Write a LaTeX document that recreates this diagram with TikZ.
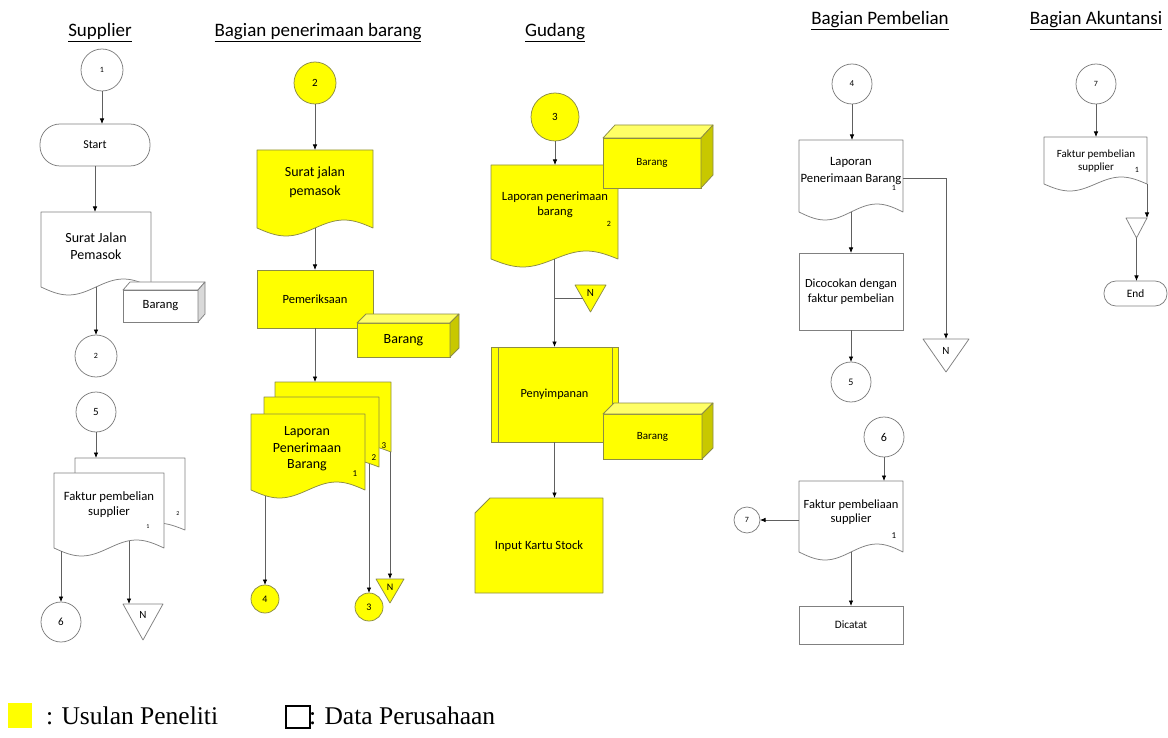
\documentclass[tikz,border=0pt]{standalone}
\usepackage{fontspec}
\setmainfont{Carlito}
\newfontfamily\legendfont{Liberation Serif}
\usetikzlibrary{arrows.meta,calc}

\definecolor{ybody}{HTML}{FFFF00}
\definecolor{ylight}{HTML}{FFFF66}
\definecolor{ydark}{HTML}{C8C800}
\definecolor{yline}{HTML}{8C8C46}
\definecolor{wline}{HTML}{808080}
\definecolor{wdark}{HTML}{D9D9D9}
\definecolor{connc}{HTML}{606060}

\newcommand\fsz[2]{\fontsize{#1pt}{#2pt}\selectfont}

% document symbol with a wavy bottom edge, drawn round an empty node
\newcommand\docshape[3]{%
  \path[#1] (#2.north west) -- (#2.north east) -- (#2.south east)
    sin ($(#2.south west)!0.75!(#2.south east)+(0,-#3)$)
    cos ($(#2.south west)!0.5!(#2.south east)$)
    sin ($(#2.south west)!0.25!(#2.south east)+(0,#3)$)
    cos (#2.south west) -- cycle;}
% top and side faces of a box symbol
\newcommand\boxdepth[4]{%
  \path[#1top] (#2.north west) -- ++(#3,-#4) -- ($(#2.north east)+(#3,-#4)$) -- (#2.north east) -- cycle;
  \path[#1side] (#2.north east) -- ++(#3,-#4) -- ($(#2.south east)+(#3,-#4)$) -- (#2.south east) -- cycle;}
% off-page connector (triangle pointing down)
\newcommand\tridown[2]{%
  \path[#1] (#2.north west) -- (#2.north east) -- (#2.south) -- cycle;}

\tikzset{
  every node/.style={inner sep=0pt, outer sep=0pt},
  conn/.style={draw=connc, line width=0.75pt, -{Latex[length=5.5pt,width=4.5pt,color=black]}},
  plain/.style={draw=connc, line width=0.75pt},
  wcirc/.style={circle, draw=wline, fill=white, line width=0.75pt},
  ycirc/.style={circle, draw=yline, fill=ybody, line width=0.75pt},
  wbox/.style={rectangle, draw=wline, fill=white, line width=0.75pt},
  ybox/.style={rectangle, draw=yline, fill=ybody, line width=0.75pt},
  slot/.style={rectangle},
  txt/.style={align=center},
  wpath/.style={draw=wline, fill=white, line width=0.75pt, line join=round},
  ypath/.style={draw=yline, fill=ybody, line width=0.75pt, line join=round},
  wtop/.style={draw=wline, fill=white, line width=0.75pt, line join=round},
  wside/.style={draw=wline, fill=wdark, line width=0.75pt, line join=round},
  ytop/.style={draw=yline, fill=ylight, line width=0.75pt, line join=round},
  yside/.style={draw=yline, fill=ydark, line width=0.75pt, line join=round},
  lanehead/.style={anchor=base, font=\fsz{19}{23}},
}

\begin{document}
\begin{tikzpicture}[x=1pt,y=-1pt]
\useasboundingbox (0,0) rectangle (1168,738);
\fill[white] (0,0) rectangle (1168,738);

% lane headings
\node[lanehead] (h1) at (100,37) {\underline{Supplier}};
\node[lanehead] (h2) at (318,37) {\underline{Bagian penerimaan barang}};
\node[lanehead] (h3) at (555,37) {\underline{Gudang}};
\node[lanehead] (h4) at (880,25) {\underline{Bagian Pembelian}};
\node[lanehead] (h5) at (1096,25) {\underline{Bagian Akuntansi}};

% ---------------- Supplier ----------------
\node[wcirc, minimum size=42, font=\fsz{8}{9}] (s1) at (102,70) {1};
\node[wbox, rounded corners=20pt, minimum width=110, minimum height=42, font=\fsz{12}{14}] (sstart) at (95,145) {Start};
\draw[conn] (s1.south) -- (s1.south |- sstart.north);
\node[slot, minimum width=110, minimum height=75, anchor=north west] (ssj) at (41,212) {};
\docshape{wpath}{ssj}{8}
\node[txt, font=\fsz{14}{17}] (ssjt) at (96,246) {Surat Jalan\\Pemasok};
\draw[conn] (sstart.south) -- (sstart.south |- ssj.north);
\node[wbox, minimum width=75, minimum height=32, font=\fsz{12.6}{15}] (sbar) at (160.5,306) {Barang};
\boxdepth{w}{sbar}{7}{8}
\node[wcirc, minimum size=42, font=\fsz{8}{9}] (s2) at (96,356) {2};
\draw[conn] (ssj.south) -- (s2.north);

\node[wcirc, minimum size=40, font=\fsz{11}{13}] (s5) at (96,412) {5};
\node[slot, minimum width=110, minimum height=72, anchor=north west] (sfb) at (75,458) {};
\docshape{wpath}{sfb}{7}
\node[slot, minimum width=110, minimum height=75, anchor=north west] (sf) at (54,473) {};
\docshape{wpath}{sf}{8}
\node[txt, font=\fsz{12.7}{15}] (sft) at (109,505) {Faktur pembelian\\supplier};
\node[font=\fsz{6}{7}] (sfn1) at (148,527) {1};
\node[font=\fsz{6}{7}] (sfn2) at (178,514) {2};
\draw[conn] (s5.south) -- (s5.south |- sfb.north);
\node[wcirc, minimum size=40, font=\fsz{11}{13}] (s6) at (61,622) {6};
\node[slot, minimum width=40, minimum height=36] (sN) at (143,622) {};
\tridown{wpath}{sN}
\node[font=\fsz{11}{13}] (sNt) at (143,615) {N};
\coordinate (sfa) at ($(sf.south west)+(7,3)$);
\draw[conn] (sfa) -- (sfa |- s6.north);
\coordinate (sfc) at ($(sf.south west)+(75,-7)$);
\draw[conn] (sfc) -- (sfc |- sN.north);

% ---------------- Bagian penerimaan barang ----------------
\node[ycirc, minimum size=42, font=\fsz{11}{13}] (p2) at (315,83) {2};
\node[slot, minimum width=116, minimum height=78, anchor=north west] (psj) at (257,150) {};
\docshape{ypath}{psj}{8}
\node[txt, font=\fsz{14}{19}] (psjt) at (315,182) {Surat jalan\\pemasok};
\draw[conn] (p2.south) -- (psj.north);
\node[ybox, minimum width=116, minimum height=58, font=\fsz{12.5}{15}] (pcek) at (315,299) {Pemeriksaan};
\draw[conn] (psj.south) -- (pcek.north);
\node[ybox, minimum width=93, minimum height=34, font=\fsz{14}{16}] (pbar) at (403.5,340) {Barang};
\boxdepth{y}{pbar}{9}{9}
\node[slot, minimum width=116, minimum height=70, anchor=north west] (pd3) at (275,382) {};
\docshape{ypath}{pd3}{7}
\node[slot, minimum width=115, minimum height=70, anchor=north west] (pd2) at (264,397) {};
\docshape{ypath}{pd2}{7}
\node[slot, minimum width=114, minimum height=76, anchor=north west] (pd1) at (251,414) {};
\docshape{ypath}{pd1}{8}
\node[font=\fsz{9}{10}] (pd3n) at (384,446) {3};
\node[font=\fsz{9}{10}] (pd2n) at (374,458) {2};
\node[font=\fsz{9}{10}] (pd1n) at (355,474) {1};
\node[txt, font=\fsz{14}{16.5}] (pd1t) at (307,449) {Laporan\\Penerimaan\\Barang};
\draw[conn] (pcek.south) -- (pcek.south |- pd3.north);
\node[ycirc, minimum size=28, font=\fsz{10}{12}] (p4) at (265,599) {4};
\node[ycirc, minimum size=28, font=\fsz{10}{12}] (p3) at (369,607) {3};
\node[slot, minimum width=28, minimum height=24] (pN) at (390,591) {};
\tridown{ypath}{pN}
\node[font=\fsz{10}{12}] (pNt) at (390,587) {N};
\coordinate (pa1) at ($(pd1.south west)+(14,5.5)$);
\draw[conn] (pa1) -- (pa1 |- p4.north);
\coordinate (pa2) at ($(pd2.south east)+(-10,-3.5)$);
\draw[conn] (pa2) -- (pa2 |- p3.north);
\coordinate (pa3) at ($(pd3.south east)+(-1,0)$);
\draw[conn] (pa3) -- (pa3 |- pN.north);

% ---------------- Gudang ----------------
\node[ycirc, minimum size=48, font=\fsz{11}{13}] (g3) at (555,117) {3};
\node[slot, minimum width=127, minimum height=94, anchor=north west] (glap) at (491,165) {};
\docshape{ypath}{glap}{8}
\node[txt, font=\fsz{12.6}{15}] (glapt) at (555,205) {Laporan penerimaan\\barang};
\node[font=\fsz{8}{9}] (glapn) at (609,224) {2};
\draw[conn] (g3.south) -- (g3.south |- glap.north);
\node[ybox, minimum width=98, minimum height=50, font=\fsz{11}{13}] (gbar1) at (652,163) {Barang};
\boxdepth{y}{gbar1}{12}{13}
\node[ybox, minimum width=127, minimum height=95, font=\fsz{12.3}{15}] (gsimpan) at (554.5,394.5) {Penyimpanan};
\draw[plain, draw=yline] ($(gsimpan.north west)+(7,0)$) -- ($(gsimpan.south west)+(7,0)$);
\draw[plain, draw=yline] ($(gsimpan.north east)+(-6,0)$) -- ($(gsimpan.south east)+(-6,0)$);
\node[slot, minimum width=31, minimum height=27] (gN) at (590.5,298.5) {};
\tridown{ypath}{gN}
\node[font=\fsz{11}{13}] (gNt) at (590.5,293) {N};
\draw[conn] (glap.south) -- (gsimpan.north);
\draw[plain] (glap.south |- gN.center) -- ($(gN.north west)!0.5!(gN.south)$);
\node[ybox, minimum width=99, minimum height=45, font=\fsz{11}{13}] (gbar2) at (652.5,436.5) {Barang};
\boxdepth{y}{gbar2}{11}{11}
\node[slot, minimum width=128, minimum height=95] (gin) at (539,545.5) {};
\path[ypath] ($(gin.north west)+(0,15)$) -- ($(gin.north west)+(15,0)$) -- (gin.north east)
  -- (gin.south east) -- (gin.south west) -- cycle;
\node[txt, font=\fsz{12.6}{15}] (gint) at (539,546) {Input Kartu Stock};
\draw[conn] (gsimpan.south) -- (gsimpan.south |- gin.north);

% ---------------- Bagian Pembelian ----------------
\node[wcirc, minimum size=40, font=\fsz{9}{10}] (b4) at (852,84) {4};
\node[slot, minimum width=104, minimum height=72, anchor=north west] (blap) at (799,140) {};
\docshape{wpath}{blap}{8}
\node[txt, font=\fsz{12.7}{17}] (blapt) at (851,171) {Laporan\\Penerimaan Barang};
\node[font=\fsz{8}{9}] (blapn) at (894,188) {1};
\draw[conn] (b4.south) -- (b4.south |- blap.north);
\node[slot, minimum width=46, minimum height=33, anchor=north] (bN) at (946,339) {};
\tridown{wpath}{bN}
\node[font=\fsz{11}{13}] (bNt) at (946,351) {N};
\draw[conn] ($(blap.north east)+(0,38)$) -| (bN.north);
\node[wbox, align=center, minimum width=104, minimum height=77, font=\fsz{12.4}{15}] (bcocok) at (851,291.5) {Dicocokan dengan\\faktur pembelian};
\draw[conn] (blap.south) -- (bcocok.north);
\node[wcirc, minimum size=40, font=\fsz{10}{12}] (b5) at (851,382) {5};
\draw[conn] (bcocok.south) -- (b5.north);
\node[wcirc, minimum size=40, font=\fsz{12}{14}] (b6) at (884,437) {6};
\node[slot, minimum width=104, minimum height=71, anchor=north west] (bfak) at (799,481) {};
\docshape{wpath}{bfak}{8}
\node[txt, font=\fsz{12.5}{14}] (bfakt) at (851,512) {Faktur pembeliaan\\supplier};
\node[font=\fsz{9}{10}] (bfakn) at (894,536) {1};
\draw[conn] (b6.south) -- (b6.south |- bfak.north);
\node[wcirc, minimum size=26, font=\fsz{8}{9}] (b7) at (747,520) {7};
\draw[conn] (b7 -| bfak.west) -- (b7.east);
\node[wbox, minimum width=104, minimum height=38, font=\fsz{11.3}{13}] (bcatat) at (851,625) {Dicatat};
\draw[conn] (bfak.south) -- (bcatat.north);

% ---------------- Bagian Akuntansi ----------------
\node[wcirc, minimum size=40, font=\fsz{8}{9}] (a7) at (1096,84) {7};
\node[slot, minimum width=103, minimum height=47, anchor=north west] (afak) at (1044,137) {};
\docshape{wpath}{afak}{7}
\node[txt, font=\fsz{11}{12.5}] (afakt) at (1096,161) {Faktur pembelian\\supplier};
\node[font=\fsz{8}{9}] (afakn) at (1137,170) {1};
\draw[conn] (a7.south) -- (a7.south |- afak.north);
\node[slot, minimum width=21, minimum height=20] (atri) at (1136.5,228) {};
\tridown{wpath}{atri}
\draw[conn] (afak.south east) -- (afak.south east |- atri.north);
\node[wbox, rounded corners=12pt, minimum width=63, minimum height=25, font=\fsz{11.3}{13}] (aend) at (1135.5,293.5) {End};
\draw[conn] (atri.south) -- (atri.south |- aend.north);

% ---------------- legend ----------------
\node[rectangle, fill=ybody, minimum width=24, minimum height=25] (lgy) at (20,715.5) {};
\node[anchor=base west, font=\legendfont\fsz{25.5}{30}] (lgyt) at (46,724) {: Usulan Peneliti};
\node[rectangle, draw=black, line width=1.1pt, minimum width=24, minimum height=22] (lgw) at (298,717) {};
\node[anchor=base west, font=\legendfont\fsz{25.5}{30}] (lgwt) at (309,724) {: Data Perusahaan};
\end{tikzpicture}
\end{document}
